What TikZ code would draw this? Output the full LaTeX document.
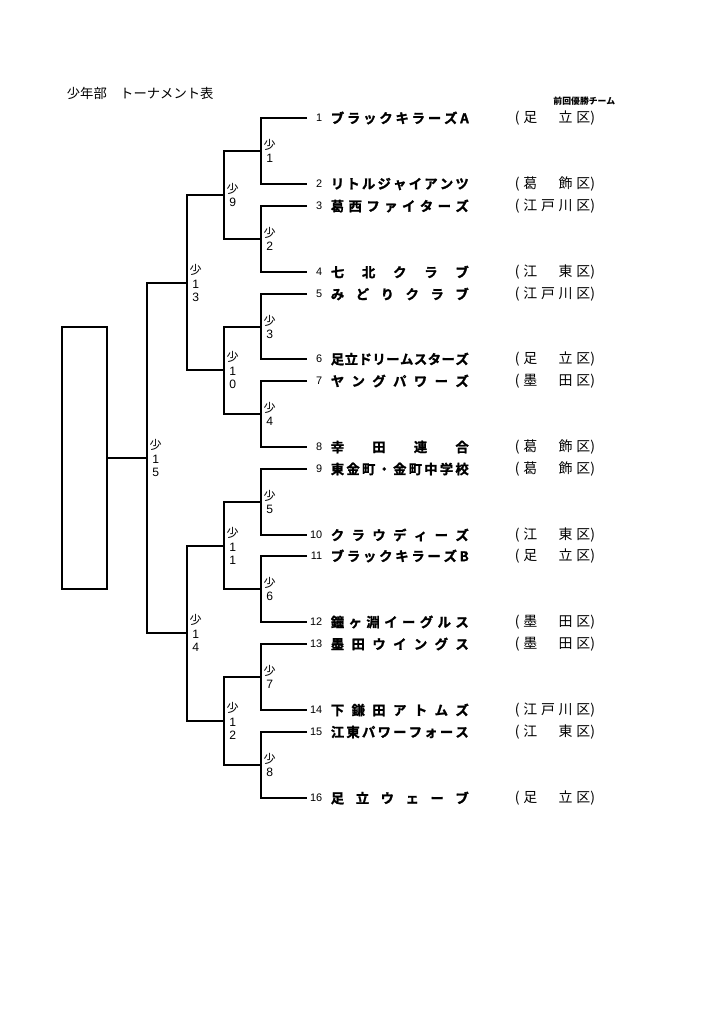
\documentclass[tikz,border=0pt]{standalone}
\usepackage{fontspec}
\setmainfont{Liberation Sans}
\newfontfamily\jp{Noto Sans CJK JP}
\newfontfamily\jpheavy{Noto Sans CJK JP Bold}[FakeBold=1.5]
% spread the letters of a name over a fixed width
\def\spreadchars#1#2\relax{#1\ifx\relax#2\relax\else\hfill\spreadchars#2\relax\fi}
\newcommand{\teamname}[1]{\makebox[40mm][s]{\jpheavy\spreadchars#1\relax}}
\newcommand{\ward}[1]{{\jp(}\hspace{1.1mm}\makebox[19.4mm][s]{\jp\spreadchars#1\relax}{\jp)}}

\begin{document}
\begin{tikzpicture}[x=0.29mm,y=-0.29mm,line width=1.4pt,
    every node/.style={inner sep=0pt},
    num/.style={anchor=east,font=\fontsize{9}{10}\selectfont},
    team/.style={anchor=west,font=\fontsize{11}{13}\selectfont},
    ward/.style={anchor=west,font=\fontsize{11.5}{13}\selectfont},
    rnd/.style={anchor=west,align=center,inner xsep=1.5pt,font=\fontsize{10}{11.3}\selectfont}]
    \useasboundingbox (0,0) rectangle (724,1024);
    \node[anchor=west,font=\jp\fontsize{11}{13}\selectfont] (title) at (66,93) {少年部　トーナメント表};
    \node[anchor=east,font=\jp\bfseries\fontsize{7.3}{8}\selectfont] (prev) at (616,101) {前回優勝チーム};
    % winner box
    \node[draw,minimum width=13.05mm,minimum height=76mm] (champ) at (84.5,458) {};
    % teams
    \coordinate (e1) at (307,118);
    \node[num] (n1) at (323,118) {1};
    \node[team] (t1) at (330,118) {\teamname{ブラックキラーズA}};
    \node[ward] (w1) at (514,118) {\ward{足　立区}};
    \coordinate (e2) at (307,184);
    \node[num] (n2) at (323,184) {2};
    \node[team] (t2) at (330,184) {\teamname{リトルジャイアンツ}};
    \node[ward] (w2) at (514,184) {\ward{葛　飾区}};
    \coordinate (e3) at (307,206);
    \node[num] (n3) at (323,206) {3};
    \node[team] (t3) at (330,206) {\teamname{葛西ファイターズ}};
    \node[ward] (w3) at (514,206) {\ward{江戸川区}};
    \coordinate (e4) at (307,272);
    \node[num] (n4) at (323,272) {4};
    \node[team] (t4) at (330,272) {\teamname{七北クラブ}};
    \node[ward] (w4) at (514,272) {\ward{江　東区}};
    \coordinate (e5) at (307,294);
    \node[num] (n5) at (323,294) {5};
    \node[team] (t5) at (330,294) {\teamname{みどりクラブ}};
    \node[ward] (w5) at (514,294) {\ward{江戸川区}};
    \coordinate (e6) at (307,359);
    \node[num] (n6) at (323,359) {6};
    \node[team] (t6) at (330,359) {\teamname{足立ドリームスターズ}};
    \node[ward] (w6) at (514,359) {\ward{足　立区}};
    \coordinate (e7) at (307,381);
    \node[num] (n7) at (323,381) {7};
    \node[team] (t7) at (330,381) {\teamname{ヤングパワーズ}};
    \node[ward] (w7) at (514,381) {\ward{墨　田区}};
    \coordinate (e8) at (307,447);
    \node[num] (n8) at (323,447) {8};
    \node[team] (t8) at (330,447) {\teamname{幸田連合}};
    \node[ward] (w8) at (514,447) {\ward{葛　飾区}};
    \coordinate (e9) at (307,469);
    \node[num] (n9) at (323,469) {9};
    \node[team] (t9) at (330,469) {\teamname{東金町・金町中学校}};
    \node[ward] (w9) at (514,469) {\ward{葛　飾区}};
    \coordinate (e10) at (307,535);
    \node[num] (n10) at (323,535) {10};
    \node[team] (t10) at (330,535) {\teamname{クラウディーズ}};
    \node[ward] (w10) at (514,535) {\ward{江　東区}};
    \coordinate (e11) at (307,556);
    \node[num] (n11) at (323,556) {11};
    \node[team] (t11) at (330,556) {\teamname{ブラックキラーズB}};
    \node[ward] (w11) at (514,556) {\ward{足　立区}};
    \coordinate (e12) at (307,622);
    \node[num] (n12) at (323,622) {12};
    \node[team] (t12) at (330,622) {\teamname{鐘ヶ淵イーグルス}};
    \node[ward] (w12) at (514,622) {\ward{墨　田区}};
    \coordinate (e13) at (307,644);
    \node[num] (n13) at (323,644) {13};
    \node[team] (t13) at (330,644) {\teamname{墨田ウイングス}};
    \node[ward] (w13) at (514,644) {\ward{墨　田区}};
    \coordinate (e14) at (307,710);
    \node[num] (n14) at (323,710) {14};
    \node[team] (t14) at (330,710) {\teamname{下鎌田アトムズ}};
    \node[ward] (w14) at (514,710) {\ward{江戸川区}};
    \coordinate (e15) at (307,732);
    \node[num] (n15) at (323,732) {15};
    \node[team] (t15) at (330,732) {\teamname{江東パワーフォース}};
    \node[ward] (w15) at (514,732) {\ward{江　東区}};
    \coordinate (e16) at (307,798);
    \node[num] (n16) at (323,798) {16};
    \node[team] (t16) at (330,798) {\teamname{足立ウェーブ}};
    \node[ward] (w16) at (514,798) {\ward{足　立区}};
    % first round
    \coordinate (m1) at (261,151);
    \coordinate (m2) at (261,239);
    \coordinate (m3) at (261,327);
    \coordinate (m4) at (261,414);
    \coordinate (m5) at (261,502);
    \coordinate (m6) at (261,589);
    \coordinate (m7) at (261,677);
    \coordinate (m8) at (261,765);
    \draw (e1) -| (m1) |- (e2);
    \draw (e3) -| (m2) |- (e4);
    \draw (e5) -| (m3) |- (e6);
    \draw (e7) -| (m4) |- (e8);
    \draw (e9) -| (m5) |- (e10);
    \draw (e11) -| (m6) |- (e12);
    \draw (e13) -| (m7) |- (e14);
    \draw (e15) -| (m8) |- (e16);
    % second round
    \coordinate (m9) at (224,195);
    \coordinate (m10) at (224,370);
    \coordinate (m11) at (224,546);
    \coordinate (m12) at (224,721);
    \draw (m1) -| (m9) |- (m2);
    \draw (m3) -| (m10) |- (m4);
    \draw (m5) -| (m11) |- (m6);
    \draw (m7) -| (m12) |- (m8);
    % semi finals and final
    \coordinate (m13) at (187,283);
    \coordinate (m14) at (187,633);
    \draw (m9) -| (m13) |- (m10);
    \draw (m11) -| (m14) |- (m12);
    \coordinate (m15) at (147,458);
    \draw (m13) -| (m15) |- (m14);
    \draw (m15) -- (champ.east);
    % match numbers
    \node[rnd] (r1) at (m1) {{\jp 少}\\1};
    \node[rnd] (r2) at (m2) {{\jp 少}\\2};
    \node[rnd] (r3) at (m3) {{\jp 少}\\3};
    \node[rnd] (r4) at (m4) {{\jp 少}\\4};
    \node[rnd] (r5) at (m5) {{\jp 少}\\5};
    \node[rnd] (r6) at (m6) {{\jp 少}\\6};
    \node[rnd] (r7) at (m7) {{\jp 少}\\7};
    \node[rnd] (r8) at (m8) {{\jp 少}\\8};
    \node[rnd] (r9) at (m9) {{\jp 少}\\9};
    \node[rnd] (r10) at (m10) {{\jp 少}\\1\\0};
    \node[rnd] (r11) at (m11) {{\jp 少}\\1\\1};
    \node[rnd] (r12) at (m12) {{\jp 少}\\1\\2};
    \node[rnd] (r13) at (m13) {{\jp 少}\\1\\3};
    \node[rnd] (r14) at (m14) {{\jp 少}\\1\\4};
    \node[rnd] (r15) at (m15) {{\jp 少}\\1\\5};
\end{tikzpicture}
\end{document}
